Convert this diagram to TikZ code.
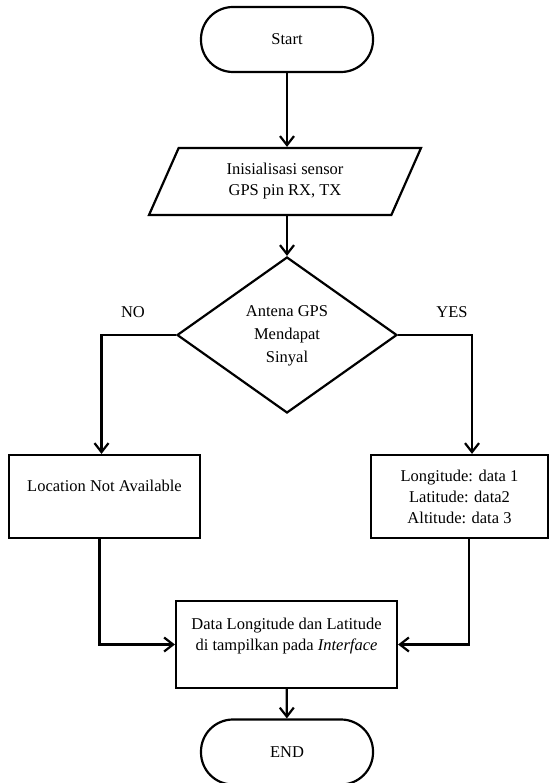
\documentclass[tikz,border=0pt]{standalone}
\usepackage{fontspec}
\setmainfont{Liberation Serif}
\usetikzlibrary{shapes.geometric}
\usetikzlibrary{arrows.meta}

\begin{document}
\begin{tikzpicture}[x=1pt,y=1pt,yscale=-1,xscale=1,
  every node/.style={font=\fontsize{16.5}{21}\selectfont, align=center, inner sep=1pt},
  term/.style={draw, line width=2.2pt, rounded corners=32pt, minimum width=172pt, minimum height=65pt},
  io/.style={draw, line width=2.2pt, trapezium, trapezium left angle=52, trapezium right angle=128, trapezium stretches body, minimum width=272pt, minimum height=67pt},
  decide/.style={draw, line width=2.2pt, diamond, aspect=1.41, minimum width=220pt, minimum height=156pt},
  proc/.style={draw, line width=2.2pt, minimum height=83pt},
  arr/.style={line width=2.2pt, -{Straight Barb[length=9pt,width=14pt,line width=2.2pt]}}
]
\useasboundingbox (0,0) rectangle (554,783);

%Shape: Terminal [id:start]
\node [term] (start) at (287,39.5) {Start};
%Shape: Parallelogram [id:init]
\node [io] (init) at (285,181.5) {Inisialisasi sensor\\GPS pin RX, TX};
%Shape: Diamond [id:dec]
\node [decide] (dec) at (287,335) {};
\node [font=\fontsize{16.5}{23}\selectfont] (dectxt) at (287,336) {Antena GPS\\Mendapat\\Sinyal};
%Shape: Rectangle [id:no]
\node [proc, minimum width=191pt] (nobox) at (104.5,496.5) {Location Not Available\\\mbox{}};
%Shape: Rectangle [id:yes]
\node [proc, minimum width=177pt] (yesbox) at (459.5,496.5) {Longitude: data 1\\Latitude: data2\\Altitude: data 3};
%Shape: Rectangle [id:data]
\node [proc, minimum width=221pt, minimum height=87pt] (data) at (286.5,644.5) {Data Longitude dan Latitude\\di tampilkan pada \textit{Interface}\\\mbox{}};
%Shape: Terminal [id:end]
\node [term] (end) at (287,752) {END};

% Text Node
\node (nolbl) at (133,312) {NO};
% Text Node
\node (yeslbl) at (452,312) {YES};

%Straight Lines
\draw [arr] (start) -- (start |- init.north);
\draw [arr] (init.south -| dec.north) -- (dec.north);
\draw [arr] (dec.west) -| ([xshift=-3pt]nobox.north);
\draw [arr] (dec.east) -| ([xshift=12.5pt]yesbox.north);
\draw [arr] ([xshift=-5pt]nobox.south) |- (data.west);
\draw [arr] ([xshift=9.5pt]yesbox.south) |- (data.east);
\draw [arr] (data) -- (end);

\end{tikzpicture}
\end{document}
